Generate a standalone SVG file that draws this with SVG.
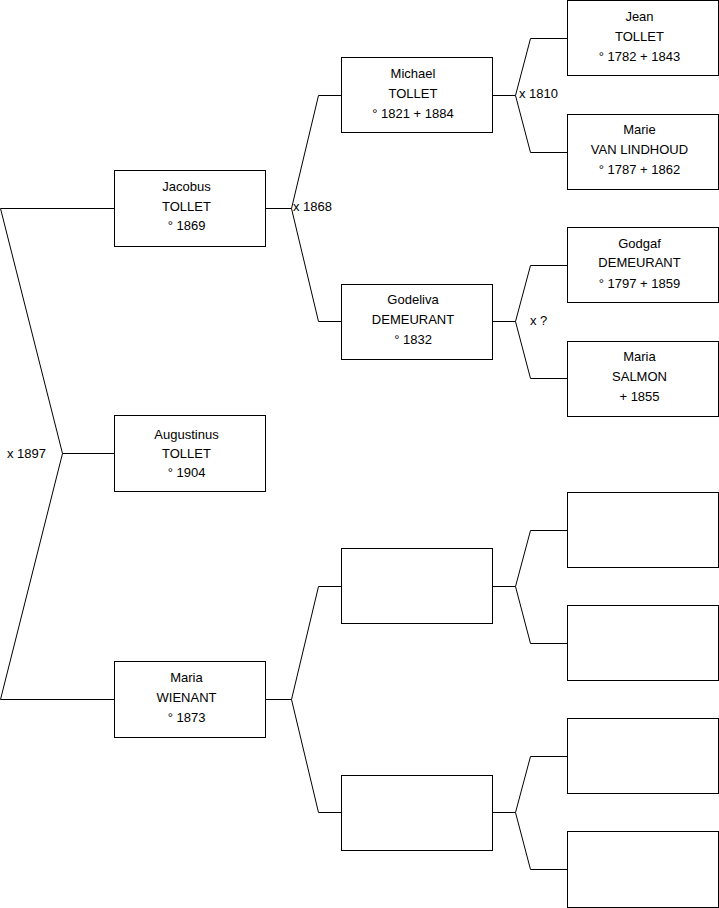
<svg xmlns="http://www.w3.org/2000/svg" width="719" height="908" viewBox="0 0 719 908">
<style>
.box{fill:#fff;stroke:#000;stroke-width:1}
.t{font-family:"Liberation Sans",Arial,sans-serif;font-size:13px;fill:#000;text-anchor:middle}
.l{font-family:"Liberation Sans",Arial,sans-serif;font-size:13px;fill:#000}
.c{fill:none;stroke:#000;stroke-width:1}
</style>
<rect width="719" height="908" fill="#fff"/>
<g id="connectors">
<path class="c" d="M114.5,208.5 H0.5 L62.5,453.5 L0.5,699.5 H114.5 M62.5,453.5 H114.5"/>
<path class="c" d="M265.5,208.5 H291.5 M341.5,95.5 H318.5 L291.5,208.5 L318.5,321.5 H341.5"/>
<path class="c" d="M265.5,699.5 H291.5 M341.5,586.5 H318.5 L291.5,699.5 L318.5,812.5 H341.5"/>
<path class="c" d="M492.5,95.5 H515.5 M567.5,38.5 H530.5 L515.5,95.5 L530.5,152.5 H567.5"/>
<path class="c" d="M492.5,321.5 H515.5 M567.5,265.5 H530.5 L515.5,321.5 L530.5,378.5 H567.5"/>
<path class="c" d="M492.5,586.5 H515.5 M567.5,530.5 H530.5 L515.5,586.5 L530.5,643.5 H567.5"/>
<path class="c" d="M492.5,812.5 H515.5 M567.5,756.5 H530.5 L515.5,812.5 L530.5,869.5 H567.5"/>
<text class="l" x="7" y="458">x 1897</text>
<text class="l" x="293" y="211">x 1868</text>
<text class="l" x="519" y="98">x 1810</text>
<text class="l" x="530" y="324.5">x ?</text>
</g>
<g id="jacobus"><rect class="box" x="114.5" y="170.5" width="151" height="76"/>
<text class="t" x="186.5" y="191">Jacobus</text><text class="t" x="186.5" y="211">TOLLET</text><text class="t" x="186.5" y="230">° 1869</text></g>
<g id="augustinus"><rect class="box" x="114.5" y="415.5" width="151" height="76"/>
<text class="t" x="186.5" y="439">Augustinus</text><text class="t" x="186.5" y="458">TOLLET</text><text class="t" x="186.5" y="477">° 1904</text></g>
<g id="maria-wienant"><rect class="box" x="114.5" y="661.5" width="151" height="76"/>
<text class="t" x="186.5" y="682">Maria</text><text class="t" x="186.5" y="702">WIENANT</text><text class="t" x="186.5" y="722">° 1873</text></g>
<g id="michael"><rect class="box" x="341.5" y="57.5" width="151" height="75"/>
<text class="t" x="413" y="77.5">Michael</text><text class="t" x="413" y="97.5">TOLLET</text><text class="t" x="413" y="118">° 1821 + 1884</text></g>
<g id="godeliva"><rect class="box" x="341.5" y="284.5" width="151" height="75"/>
<text class="t" x="413" y="304">Godeliva</text><text class="t" x="413" y="324">DEMEURANT</text><text class="t" x="413" y="344">° 1832</text></g>
<g id="empty-f"><rect class="box" x="341.5" y="548.5" width="151" height="75"/></g>
<g id="empty-m"><rect class="box" x="341.5" y="775.5" width="151" height="75"/></g>
<g id="jean"><rect class="box" x="567.5" y="0.5" width="151" height="75"/>
<text class="t" x="639.5" y="21">Jean</text><text class="t" x="639.5" y="40.5">TOLLET</text><text class="t" x="639.5" y="60.5">° 1782 + 1843</text></g>
<g id="marie"><rect class="box" x="567.5" y="114.5" width="151" height="75"/>
<text class="t" x="639.5" y="134">Marie</text><text class="t" x="639.5" y="154">VAN LINDHOUD</text><text class="t" x="639.5" y="174">° 1787 + 1862</text></g>
<g id="godgaf"><rect class="box" x="567.5" y="227.5" width="151" height="75"/>
<text class="t" x="639.5" y="247.5">Godgaf</text><text class="t" x="639.5" y="267">DEMEURANT</text><text class="t" x="639.5" y="287.5">° 1797 + 1859</text></g>
<g id="maria-salmon"><rect class="box" x="567.5" y="341.5" width="151" height="75"/>
<text class="t" x="639.5" y="361">Maria</text><text class="t" x="639.5" y="381">SALMON</text><text class="t" x="639.5" y="401">+ 1855</text></g>
<g id="empty-1"><rect class="box" x="567.5" y="492.5" width="151" height="75"/></g>
<g id="empty-2"><rect class="box" x="567.5" y="605.5" width="151" height="75"/></g>
<g id="empty-3"><rect class="box" x="567.5" y="718.5" width="151" height="75"/></g>
<g id="empty-4"><rect class="box" x="567.5" y="831.5" width="151" height="76"/></g>
</svg>
